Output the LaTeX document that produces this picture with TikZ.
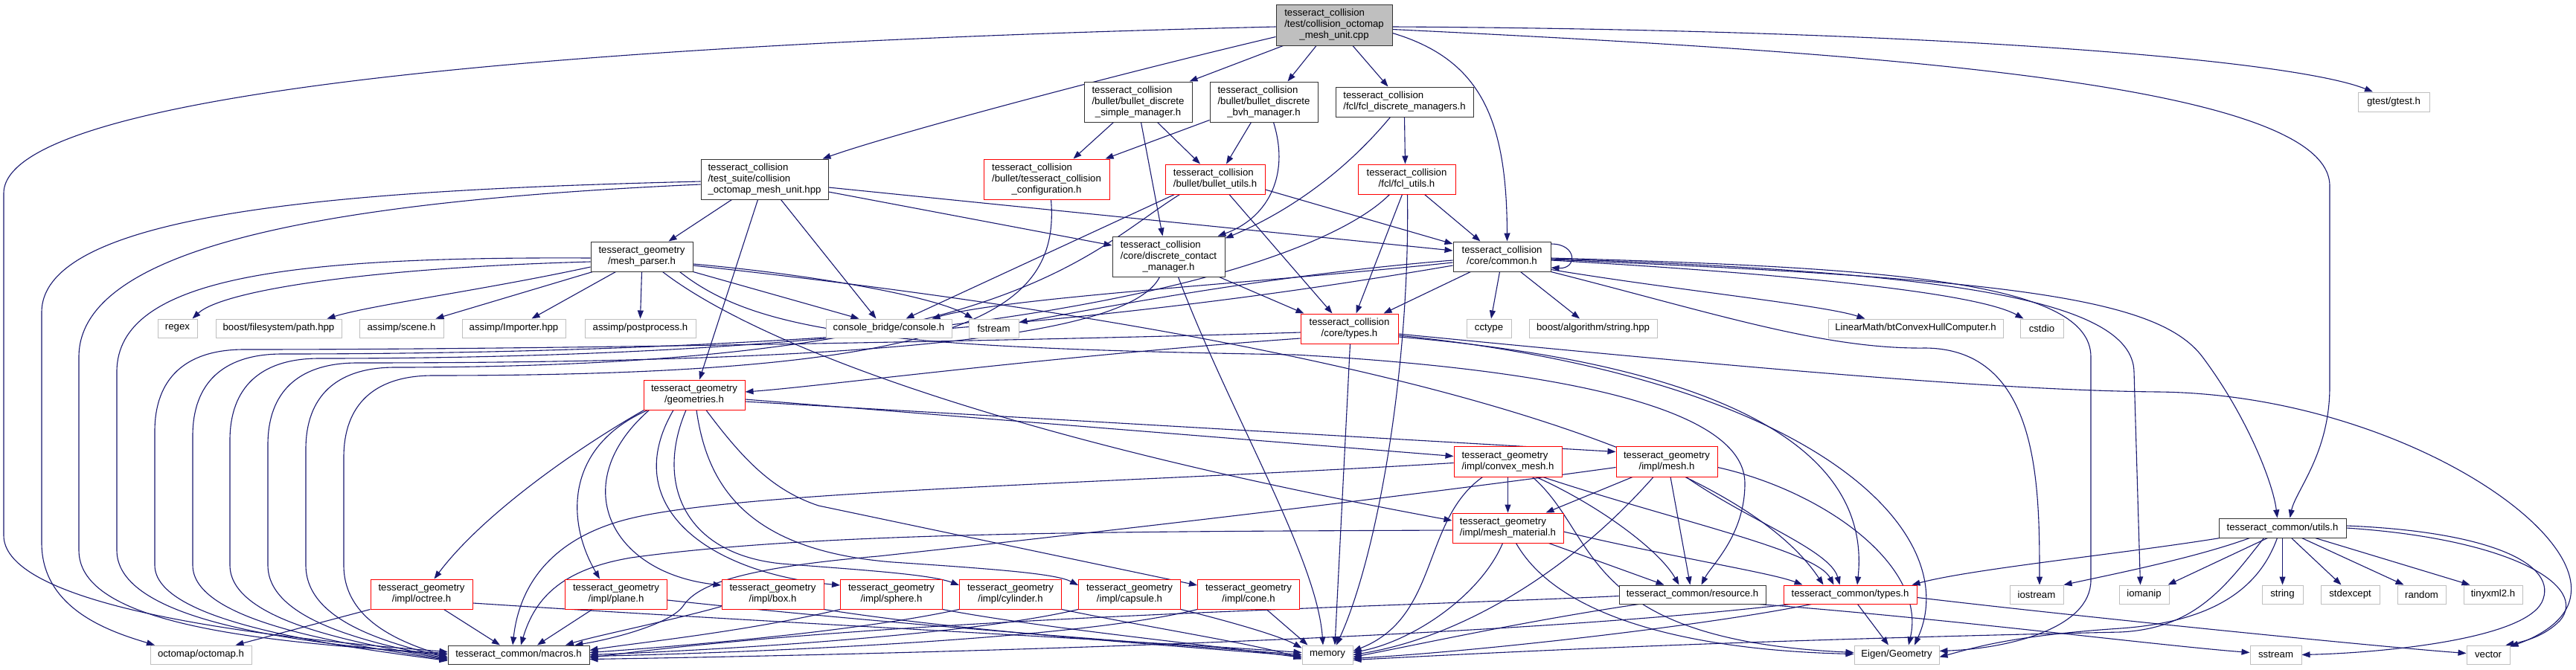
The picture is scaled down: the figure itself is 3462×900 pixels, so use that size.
\documentclass[tikz,border=0pt]{standalone}
\usepackage{fontspec}
\setmainfont{Liberation Sans}
\usetikzlibrary{arrows.meta,calc,backgrounds}
\definecolor{ecol}{HTML}{191970}
\definecolor{nred}{HTML}{FF0000}
\definecolor{gbord}{HTML}{BFBFBF}
\definecolor{gfill}{HTML}{BFBFBF}
\newcommand\nf{\fontsize{13.2}{15}\selectfont}
\newcommand\tlab[2]{\begin{tabular}{@{}l@{}}#1\\\multicolumn{1}{@{}c@{}}{#2}\end{tabular}}
\newcommand\tlabc[3]{\begin{tabular}{@{}l@{}}#1\\#2\\\multicolumn{1}{@{}c@{}}{#3}\end{tabular}}
\tikzset{
  nb/.style={draw=black!80, line width=1.0pt, fill=white, inner sep=0pt, font=\nf},
  nr/.style={nb, draw=nred},
  ng/.style={nb, draw=gbord, minimum height=25pt},
  nroot/.style={nb, fill=gfill},
  e/.style={draw=ecol, line width=1.1pt, -{Triangle[length=11pt,width=8pt]}}
}
\begin{document}
\begin{tikzpicture}[x=1pt,y=-1pt]
\useasboundingbox (0,0) rectangle (3462,900);
% ---------- nodes ----------
\node[nroot, minimum width=156pt, minimum height=55pt] (root) at (1793,33.5) {\tlabc{tesseract\_collision}{/test/collision\_octomap}{\_mesh\_unit.cpp}};
\node[nb, minimum width=145pt, minimum height=54pt] (simple) at (1529.5,137) {\tlabc{tesseract\_collision}{/bullet/bullet\_discrete}{\_simple\_manager.h}};
\node[nb, minimum width=145pt, minimum height=54pt] (bvh) at (1698.5,137) {\tlabc{tesseract\_collision}{/bullet/bullet\_discrete}{\_bvh\_manager.h}};
\node[nb, minimum width=185pt, minimum height=40pt] (fclm) at (1887.5,137) {\tlab{tesseract\_collision}{/fcl/fcl\_discrete\_managers.h}};
\node[ng, minimum width=96pt, minimum height=26pt] (gtest) at (3217,137) {gtest/gtest.h};
\node[nb, minimum width=171pt, minimum height=54pt] (ts) at (1027.5,241) {\tlabc{tesseract\_collision}{/test\_suite/collision}{\_octomap\_mesh\_unit.hpp}};
\node[nr, minimum width=169pt, minimum height=54pt] (tcc) at (1406.5,241) {\tlabc{tesseract\_collision}{/bullet/tesseract\_collision}{\_configuration.h}};
\node[nr, minimum width=134pt, minimum height=40pt] (bu) at (1633,241) {\tlab{tesseract\_collision}{/bullet/bullet\_utils.h}};
\node[nr, minimum width=131pt, minimum height=40pt] (fu) at (1890.5,241) {\tlab{tesseract\_collision}{/fcl/fcl\_utils.h}};
\node[nb, minimum width=137pt, minimum height=40pt] (mp) at (862.5,345) {\tlab{tesseract\_geometry}{/mesh\_parser.h}};
\node[nb, minimum width=151pt, minimum height=54pt] (dcm) at (1570.5,345) {\tlabc{tesseract\_collision}{/core/discrete\_contact}{\_manager.h}};
\node[nb, minimum width=131pt, minimum height=40pt] (common) at (2018.5,345) {\tlab{tesseract\_collision}{/core/common.h}};
% row 441
\node[ng, minimum width=53pt] (regex) at (238.5,441.5) {regex};
\node[ng, minimum width=169pt] (bfs) at (374.5,441.5) {boost/filesystem/path.hpp};
\node[ng, minimum width=113pt] (scene) at (539.5,441.5) {assimp/scene.h};
\node[ng, minimum width=139pt] (importer) at (690.5,441.5) {assimp/Importer.hpp};
\node[ng, minimum width=149pt] (post) at (860.5,441.5) {assimp/postprocess.h};
\node[ng, minimum width=169pt] (console) at (1194.5,441.5) {console\_bridge/console.h};
\node[ng, minimum width=67pt] (fstream) at (1335.5,441.5) {fstream};
\node[nr, minimum width=131pt, minimum height=40pt] (ctypes) at (1813.5,442) {\tlab{tesseract\_collision}{/core/types.h}};
\node[ng, minimum width=60pt] (cctype) at (2001,441.5) {cctype};
\node[ng, minimum width=172pt] (balg) at (2141,441.5) {boost/algorithm/string.hpp};
\node[ng, minimum width=235pt] (lm) at (2574.5,441.5) {LinearMath/btConvexHullComputer.h};
\node[ng, minimum width=58pt] (cstdio) at (2744,441.5) {cstdio};
% geometry
\node[nr, minimum width=136pt, minimum height=40pt] (geom) at (933,531) {\tlab{tesseract\_geometry}{/geometries.h}};
\node[nr, minimum width=145pt, minimum height=41pt] (cvx) at (2026.5,620.5) {\tlab{tesseract\_geometry}{/impl/convex\_mesh.h}};
\node[nr, minimum width=136pt, minimum height=41pt] (mesh) at (2240,620.5) {\tlab{tesseract\_geometry}{/impl/mesh.h}};
\node[nr, minimum width=149pt, minimum height=40pt] (mmat) at (2026.5,710) {\tlab{tesseract\_geometry}{/impl/mesh\_material.h}};
\node[nb, minimum width=171pt, minimum height=26pt] (utils) at (3067.5,710) {tesseract\_common/utils.h};
% impl row
\node[nr, minimum width=137pt, minimum height=40pt] (octree) at (566.5,799) {\tlab{tesseract\_geometry}{/impl/octree.h}};
\node[nr, minimum width=137pt, minimum height=40pt] (plane) at (828,799) {\tlab{tesseract\_geometry}{/impl/plane.h}};
\node[nr, minimum width=137pt, minimum height=40pt] (box) at (1038.5,799) {\tlab{tesseract\_geometry}{/impl/box.h}};
\node[nr, minimum width=137pt, minimum height=40pt] (sphere) at (1198,799) {\tlab{tesseract\_geometry}{/impl/sphere.h}};
\node[nr, minimum width=137pt, minimum height=40pt] (cyl) at (1358,799) {\tlab{tesseract\_geometry}{/impl/cylinder.h}};
\node[nr, minimum width=137pt, minimum height=40pt] (caps) at (1518,799) {\tlab{tesseract\_geometry}{/impl/capsule.h}};
\node[nr, minimum width=137pt, minimum height=40pt] (cone) at (1678,799) {\tlab{tesseract\_geometry}{/impl/cone.h}};
\node[nb, minimum width=197pt, minimum height=25pt] (resource) at (2274.5,799.5) {tesseract\_common/resource.h};
\node[nr, minimum width=179pt, minimum height=25pt] (cmtypes) at (2486.5,799.5) {tesseract\_common/types.h};
\node[ng, minimum width=72pt] (iostream) at (2737,799.5) {iostream};
\node[ng, minimum width=67pt] (iomanip) at (2881.5,799.5) {iomanip};
\node[ng, minimum width=55pt] (string) at (3067.5,799.5) {string};
\node[ng, minimum width=79pt] (stdexcept) at (3158.5,799.5) {stdexcept};
\node[ng, minimum width=65pt] (random) at (3254.5,799.5) {random};
\node[ng, minimum width=79pt] (tinyxml) at (3350.5,799.5) {tinyxml2.h};
% bottom row
\node[ng, minimum width=136pt] (octomap) at (270,880.5) {octomap/octomap.h};
\node[nb, minimum width=190pt, minimum height=25pt] (macros) at (697,880.5) {tesseract\_common/macros.h};
\node[ng, minimum width=68pt] (memory) at (1784,880.5) {memory};
\node[ng, minimum width=114pt] (eigen) at (2549,880.5) {Eigen/Geometry};
\node[ng, minimum width=69pt] (sstream) at (3058.5,880.5) {sstream};
\node[ng, minimum width=58pt] (vector) at (3344,880.5) {vector};
% ---------- edges ----------
\begin{pgfonlayer}{background}
\fill[white] (0,0) rectangle (3462,900);
% root
\draw[e] ($(root.west)+(0,2.5)$) .. controls (700,60) and (5,130) .. (5,260) -- (5,720) .. controls (5,800) and (250,850) .. ($(macros.west)+(0,-4)$);
\draw[e] ($(root.east)+(0,2.5)$) .. controls (2600,40) and (3080,80) .. ($(gtest.north)+(-28,0)$);
\draw[e] ($(root.east)+(0,6)$) .. controls (2500,70) and (3131,110) .. (3131,250) -- (3131,520) .. controls (3131,610) and (3085,660) .. ($(utils.north)+(10,0)$);
\draw[e] ($(root.east)+(0,11)$) .. controls (1990,80) and (2025,160) .. ($(common.north)+(7,0)$);
\draw[e] ($(root.south)+(25,0)$) -- ($(fclm.north)+(-22,0)$);
\draw[e] ($(root.south)+(-24,0)$) -- ($(bvh.north)+(32,0)$);
\draw[e] ($(root.south west)+(10,0)$) -- ($(simple.north east)+(-4,0)$);
\draw[e] ($(root.west)+(0,16)$) .. controls (1500,100) and (1200,180) .. ($(ts.north east)+(-8,0)$);
% test suite
\draw[e] ($(ts.south)+(-44,0)$) -- ($(mp.north)+(36,0)$);
\draw[e] ($(ts.south)+(-9,0)$) -- ($(geom.north)+(7,0)$);
\draw[e] ($(ts.south)+(22,0)$) -- ($(console.north)+(-17,0)$);
\draw[e] ($(ts.east)+(0,17)$) -- ($(dcm.west)+(0,-15)$);
\draw[e] ($(ts.east)+(0,11)$) -- ($(common.west)+(0,-8)$);
\draw[e] ($(ts.west)+(0,3)$) .. controls (500,255) and (56,280) .. (56,420) -- (56,730) .. controls (56,820) and (150,850) .. ($(octomap.north)+(-62,0)$);
\draw[e] ($(ts.west)+(0,7)$) .. controls (450,270) and (106,330) .. (106,480) -- (106,740) .. controls (106,830) and (300,862) .. ($(macros.west)+(0,-2)$);
% mesh parser
\draw[e] ($(mp.west)+(0,7)$) .. controls (500,360) and (300,390) .. ($(regex.north east)+(-7,0)$);
\draw[e] ($(mp.west)+(0,14)$) .. controls (650,390) and (500,410) .. ($(bfs.north)+(65,0)$);
\draw[e] ($(mp.south west)+(3,0)$) -- ($(scene.north east)+(-11,0)$);
\draw[e] ($(mp.south)+(-35,0)$) -- ($(importer.north)+(24,0)$);
\draw[e] (mp.south) -- (post.north);
\draw[e] (mp.south east) -- ($(console.north)+(-40,0)$);
\draw[e] ($(mp.west)+(0,2)$) .. controls (400,345) and (157,370) .. (157,500) -- (157,740) .. controls (157,825) and (350,862) .. (macros.west);
\draw[e] ($(mp.east)+(0,10)$) .. controls (1100,370) and (1260,400) .. ($(fstream.north west)+(6,0)$);
\draw[e] ($(mp.east)+(0,12)$) .. controls (1600,430) and (2300,560) .. ($(cmtypes.north)+(-36,0)$);
\draw[e] ($(mp.south east)+(-18,0)$) .. controls (1020,450) and (1200,468) .. (1740,477) .. controls (2150,500) and (2345,560) .. (2345,650) .. controls (2345,720) and (2300,760) .. ($(resource.north)+(12,0)$);
\draw[e] ($(mp.south east)+(-41,0)$) .. controls (1000,450) and (1300,580) .. ($(mmat.west)+(0,-10)$);
% managers
\draw[e] ($(simple.south)+(-33,0)$) -- ($(tcc.north)+(36,0)$);
\draw[e] ($(simple.south)+(4,0)$) -- ($(dcm.north)+(-8,0)$);
\draw[e] ($(simple.south)+(26,0)$) -- ($(bu.north)+(-20,0)$);
\draw[e] ($(bvh.south west)+(0,-3)$) -- ($(tcc.north east)+(-6,0)$);
\draw[e] ($(bvh.south)+(-17,0)$) -- ($(bu.north)+(15,0)$);
\draw[e] ($(bvh.south)+(13,0)$) .. controls (1735,240) and (1700,295) .. ($(dcm.north east)+(-10,0)$);
\draw[e] ($(fclm.south)+(-19,0)$) .. controls (1800,240) and (1720,290) .. ($(dcm.north east)+(0,3)$);
\draw[e] (fclm.south) -- ($(fu.north)+(-2,0)$);
% left loops into macros
\draw[e] ($(tcc.south)+(6,0)$) .. controls (1425,420) and (1300,505) .. (582,505) .. controls (502,505) and (462,545) .. (462,615) -- (462,760) .. controls (462,835) and (540,864) .. ($(macros.west)+(0,3)$);
\draw[e] ($(bu.south west)+(20,0)$) .. controls (1460,340) and (1350,494) .. (531,494) .. controls (451,494) and (411,534) .. (411,604) -- (411,760) .. controls (411,835) and (520,864) .. ($(macros.west)+(0,4)$);
\draw[e] ($(dcm.south)+(-12,0)$) .. controls (1520,450) and (1200,488) .. (480,488) .. controls (400,488) and (360,528) .. (360,598) -- (360,760) .. controls (360,835) and (500,865) .. ($(macros.west)+(0,5)$);
\draw[e] ($(fu.south west)+(43,0)$) .. controls (1780,350) and (1400,482) .. (429,482) .. controls (349,482) and (309,522) .. (309,592) -- (309,760) .. controls (309,835) and (480,865) .. ($(macros.west)+(0,6)$);
\draw[e] ($(common.west)+(0,12)$) .. controls (1700,400) and (1200,476) .. (379,476) .. controls (299,476) and (259,516) .. (259,586) -- (259,760) .. controls (259,835) and (460,866) .. ($(macros.west)+(0,7)$);
\draw[e] ($(ctypes.west)+(0,5)$) .. controls (1500,455) and (800,470) .. (328,470) .. controls (248,470) and (208,510) .. (208,580) -- (208,760) .. controls (208,835) and (440,867) .. ($(macros.west)+(0,8)$);
% bullet utils
\draw[e] ($(bu.south west)+(13,0)$) -- ($(console.north)+(23,0)$);
\draw[e] ($(bu.south)+(19,0)$) -- ($(ctypes.north)+(-23,0)$);
\draw[e] ($(bu.east)+(0,14)$) -- ($(common.west)+(0,-17)$);
% dcm
\draw[e] ($(dcm.south east)+(-8,0)$) -- ($(ctypes.north west)+(5,0)$);
\draw[e] ($(dcm.south)+(13,0)$) .. controls (1650,550) and (1770,750) .. ($(memory.north)+(-6,0)$);
% fcl utils
\draw[e] ($(fu.south)+(24,0)$) -- ($(common.north)+(-29,0)$);
\draw[e] ($(fu.south)+(-6,0)$) -- ($(ctypes.north)+(9,0)$);
\draw[e] ($(fu.south)+(1,0)$) .. controls (1895,500) and (1850,750) .. ($(memory.north)+(12,0)$);
% common
\draw[e] ($(common.east)+(0,-17)$) .. controls (2120,328) and (2120,362) .. ($(common.east)+(0,15)$);
\draw[e] ($(common.south west)+(24,0)$) -- ($(ctypes.north east)+(-20,0)$);
\draw[e] ($(common.south)+(-3,0)$) -- ($(cctype.north)+(3,0)$);
\draw[e] ($(common.south)+(25,0)$) -- ($(balg.north)+(-18,0)$);
\draw[e] ($(common.south east)+(0,-3)$) .. controls (2250,390) and (2450,410) .. ($(lm.north)+(-68,0)$);
\draw[e] ($(common.east)+(0,5)$) .. controls (2350,365) and (2650,390) .. ($(cstdio.north west)+(5,0)$);
\draw[e] (common.south east) .. controls (2300,420) and (2450,470) .. (2588,468) .. controls (2740,470) and (2741,650) .. ($(iostream.north)+(4,0)$);
\draw[e] ($(common.east)+(0,2)$) .. controls (2550,360) and (2810,380) .. (2810,480) -- (2810,780) .. controls (2810,845) and (2700,872) .. ($(eigen.east)+(0,-5)$);
\draw[e] ($(common.east)+(0,3)$) .. controls (2600,365) and (2866,400) .. (2868,500) -- ($(iomanip.north)+(-5,0)$);
\draw[e] ($(common.east)+(0,4)$) .. controls (2700,375) and (2900,400) .. (2960,480) .. controls (3020,560) and (3055,650) .. ($(utils.north)+(-7,0)$);
\draw[e] ($(common.west)+(0,5)$) .. controls (1700,370) and (1450,420) .. ($(fstream.east)+(0,-8)$);
\draw[e] ($(common.west)+(0,8)$) .. controls (1700,380) and (1350,400) .. ($(console.north east)+(-27,0)$);
% collision types
\draw[e] ($(ctypes.south)+(1,0)$) -- ($(memory.north)+(10,0)$);
\draw[e] ($(ctypes.west)+(0,13)$) .. controls (1400,480) and (1100,520) .. ($(geom.east)+(0,-4)$);
\draw[e] ($(ctypes.east)+(0,11)$) .. controls (2200,480) and (2520,560) .. ($(cmtypes.north)+(9.5,0)$);
\draw[e] ($(ctypes.east)+(0,9)$) .. controls (2450,510) and (2640,720) .. ($(eigen.north)+(24,0)$);
\draw[e] ($(ctypes.east)+(0,7)$) .. controls (2400,500) and (2700,525) .. (2900,527) .. controls (3200,530) and (3470,700) .. (3455,800) .. controls (3450,840) and (3400,860) .. ($(vector.north east)+(0,2)$);
% geometries
\draw[e] ($(geom.south west)+(1,0)$) .. controls (780,600) and (650,690) .. ($(octree.north)+(17,0)$);
\draw[e] ($(geom.south west)+(6,0)$) .. controls (760,600) and (760,700) .. ($(plane.north)+(-22,0)$);
\draw[e] ($(geom.south west)+(8,0)$) .. controls (760,650) and (820,770) .. ($(box.west)+(0,-12)$);
\draw[e] ($(geom.south)+(-28,0)$) .. controls (830,680) and (950,770) .. ($(sphere.west)+(0,-12)$);
\draw[e] ($(geom.south)+(-11,0)$) .. controls (880,650) and (920,745) .. (1050,758) .. controls (1150,766) and (1250,772) .. ($(cyl.west)+(0,-12)$);
\draw[e] ($(geom.south)+(3,0)$) .. controls (950,650) and (1000,740) .. (1200,756) .. controls (1350,766) and (1420,772) .. ($(caps.west)+(0,-12)$);
\draw[e] ($(geom.south)+(16,0)$) .. controls (1000,620) and (1040,660) .. (1100,680) -- ($(cone.west)+(0,-12)$);
\draw[e] ($(geom.east)+(0,6)$) -- ($(cvx.west)+(0,-7)$);
\draw[e] ($(geom.east)+(0,9)$) -- ($(mesh.west)+(0,-13)$);
% shapes
\draw[e] (octree.south west) -- ($(octomap.north east)+(-22,0)$);
\draw[e] ($(octree.south)+(30,0)$) -- ($(macros.north)+(-25,0)$);
\draw[e] ($(octree.east)+(0,12)$) .. controls (1000,835) and (1500,860) .. ($(memory.west)+(0,-3)$);
\draw[e] ($(plane.south)+(-32,0)$) -- ($(macros.north)+(25,0)$);
\draw[e] ($(plane.east)+(0,8)$) .. controls (1200,840) and (1550,865) .. (memory.west);
\draw[e] ($(box.south west)+(0,-4)$) .. controls (900,835) and (800,855) .. ($(macros.north)+(63,0)$);
\draw[e] (box.south east) .. controls (1300,850) and (1600,870) .. ($(memory.west)+(0,2)$);
\draw[e] (sphere.south west) .. controls (1000,850) and (850,865) .. ($(macros.east)+(0,-6)$);
\draw[e] (sphere.south east) .. controls (1400,845) and (1650,870) .. ($(memory.west)+(0,4)$);
\draw[e] (cyl.south west) .. controls (1150,850) and (900,870) .. ($(macros.east)+(0,-3)$);
\draw[e] (cyl.south east) .. controls (1550,845) and (1700,868) .. ($(memory.west)+(0,6)$);
\draw[e] (caps.south west) .. controls (1300,855) and (950,875) .. (macros.east);
\draw[e] (caps.south east) .. controls (1650,835) and (1720,855) .. ($(memory.north west)+(0,4)$);
\draw[e] (cone.south west) .. controls (1450,860) and (1000,878) .. ($(macros.east)+(0,2)$);
\draw[e] ($(cone.south)+(24,0)$) -- ($(memory.north west)+(8,0)$);
% convex mesh
\draw[e] ($(cvx.south)+(-34,0)$) .. controls (1910,700) and (1935,830) .. ($(memory.east)+(0,-5)$);
\draw[e] (cvx.south) -- (mmat.north);
\draw[e] ($(cvx.south)+(33,0)$) .. controls (2150,720) and (2120,860) .. ($(eigen.west)+(0,-3)$);
\draw[e] ($(cvx.south)+(38,0)$) .. controls (2150,680) and (2230,740) .. ($(resource.north)+(-18,0)$);
\draw[e] ($(cvx.south)+(47,0)$) .. controls (2250,700) and (2440,740) .. ($(cmtypes.north)+(-22,0)$);
\draw[e] ($(cvx.west)+(0,2)$) .. controls (1500,650) and (1000,660) .. (848,697) .. controls (760,718) and (700,770) .. ($(macros.north)+(-8,0)$);
% mesh
\draw[e] ($(mesh.south)+(-46,0)$) -- ($(mmat.north east)+(-24,0)$);
\draw[e] ($(mesh.south)+(-18,0)$) .. controls (2100,780) and (1950,860) .. (memory.east);
\draw[e] ($(mesh.south)+(5,0)$) -- ($(resource.north)+(-3,0)$);
\draw[e] ($(mesh.south)+(26,0)$) .. controls (2350,700) and (2460,740) .. ($(cmtypes.north)+(-14,0)$);
\draw[e] ($(mesh.east)+(0,8)$) .. controls (2450,660) and (2590,760) .. ($(eigen.north)+(16,0)$);
\draw[e] ($(mesh.west)+(0,8)$) .. controls (1800,680) and (1300,735) .. (1180,748) .. controls (980,765) and (935,790) .. (918,815) .. controls (900,840) and (820,860) .. ($(macros.north east)+(-20,0)$);
% mesh material
\draw[e] ($(mmat.south)+(-7,0)$) .. controls (1990,800) and (1900,862) .. ($(memory.east)+(0,-3)$);
\draw[e] ($(mmat.south)+(11,0)$) .. controls (2100,840) and (2300,875) .. ($(eigen.west)+(0,-1)$);
\draw[e] ($(mmat.south)+(55,0)$) -- ($(resource.north)+(-38,0)$);
\draw[e] ($(mmat.east)+(0,5)$) .. controls (2250,750) and (2380,770) .. ($(cmtypes.north)+(-64,0)$);
\draw[e] ($(mmat.west)+(0,3)$) .. controls (1500,715) and (1100,715) .. (848,750) .. controls (760,765) and (720,800) .. ($(macros.north)+(3,0)$);
% resource
\draw[e] ($(resource.west)+(0,2)$) .. controls (1900,815) and (1200,830) .. ($(macros.east)+(0,4)$);
\draw[e] ($(resource.south west)+(27,0)$) .. controls (2050,835) and (1900,868) .. ($(memory.east)+(0,3)$);
\draw[e] ($(resource.south east)+(-10,0)$) .. controls (2600,830) and (2900,868) .. ($(sstream.west)+(0,-3)$);
% common types
\draw[e] ($(cmtypes.south)+(10,0)$) -- ($(eigen.north)+(-11,0)$);
\draw[e] ($(cmtypes.south west)+(38,0)$) .. controls (2300,840) and (2000,875) .. ($(memory.east)+(0,5)$);
\draw[e] ($(cmtypes.east)+(0,4)$) .. controls (2800,830) and (3200,870) .. ($(vector.west)+(0,-2)$);
\draw[e] ($(cmtypes.south west)+(10,0)$) .. controls (2000,860) and (1200,880) .. ($(macros.east)+(0,6)$);
% utils
\draw[e] ($(utils.south west)+(2,0)$) .. controls (2850,745) and (2650,765) .. ($(cmtypes.north east)+(-7,0)$);
\draw[e] ($(utils.south west)+(42,0)$) .. controls (2950,750) and (2850,770) .. (iostream.north east);
\draw[e] ($(utils.south)+(-20,0)$) -- ($(iomanip.north east)+(-2,0)$);
\draw[e] (utils.south) -- (string.north);
\draw[e] ($(utils.south)+(12,0)$) -- ($(stdexcept.north)+(-12,0)$);
\draw[e] ($(utils.south)+(26,0)$) -- ($(random.north)+(-24,0)$);
\draw[e] ($(utils.south)+(44,0)$) -- ($(tinyxml.north)+(-31,0)$);
\draw[e] ($(utils.east)+(0,-3)$) .. controls (3350,715) and (3440,760) .. (3416,810) .. controls (3390,860) and (3200,878) .. (sstream.east);
\draw[e] (utils.east) .. controls (3380,725) and (3480,790) .. (3440,835) .. controls (3420,855) and (3395,862) .. ($(vector.north east)+(-6,0)$);
\draw[e] ($(utils.south)+(-7,0)$) .. controls (3040,780) and (2990,835) .. (2850,845) .. controls (2700,855) and (2650,872) .. ($(eigen.east)+(0,3)$);
\draw[e] ($(utils.south)+(-25,0)$) .. controls (2990,790) and (2950,845) .. (2850,850) .. controls (2300,862) and (2000,878) .. ($(memory.east)+(0,7)$);
\end{pgfonlayer}
\end{tikzpicture}
\end{document}
